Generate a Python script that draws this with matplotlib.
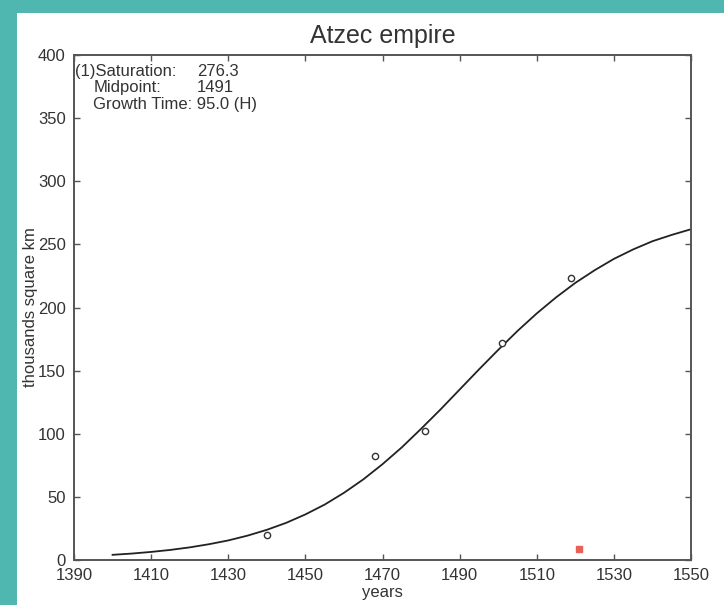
import matplotlib
matplotlib.use("Agg")
import matplotlib.pyplot as plt
from matplotlib.patches import Rectangle

# fitted curve, every 5 years
curve_years = [1400, 1405, 1410, 1415, 1420, 1425, 1430, 1435, 1440, 1445,
               1450, 1455, 1460, 1465, 1470, 1475, 1480, 1485, 1490, 1495,
               1500, 1505, 1510, 1515, 1520, 1525, 1530, 1535, 1540, 1545, 1550]
curve_vals = [4.1, 5.1, 6.4, 8.0, 10.0, 12.5, 15.5, 19.3, 23.9, 29.4,
              36.1, 43.9, 53.2, 63.8, 75.9, 89.2, 103.9, 119.1, 135.0, 150.9,
              166.4, 181.4, 195.3, 208.0, 219.5, 229.5, 238.5, 246.0, 252.5, 257.5, 262.0]

# data points
obs_years = [1440, 1468, 1481, 1501, 1519]
obs_vals = [20, 82, 102, 172, 223]

# red marker near the axis
red_year = [1521]
red_val = [9]

x_ticks = [1390, 1410, 1430, 1450, 1470, 1490, 1510, 1530, 1550]
y_ticks = [0, 50, 100, 150, 200, 250, 300, 350, 400]

plt.rcParams['font.family'] = ['Liberation Sans', 'DejaVu Sans']

W, H = 724, 605
fig = plt.figure(figsize=(W / 100, H / 100), dpi=100)
fig.patch.set_facecolor("#4fb7b0")
# white page inside the teal frame
fig.patches.append(Rectangle((17 / W, 0), 1, (H - 13) / H, transform=fig.transFigure,
                             facecolor="white", edgecolor="none", zorder=-1))

ax = fig.add_axes([74 / W, 45 / H, 617 / W, 505 / H])
ax.plot(curve_years, curve_vals, color="#222222", linewidth=1.3)
ax.plot(obs_years, obs_vals, "o", markersize=4.5, markerfacecolor="white",
        markeredgecolor="#333333", markeredgewidth=1.0)
ax.plot(red_year, red_val, "s", markersize=5, color="#e8605a", markeredgecolor="#e8605a")

ax.set_xlim(1390, 1550)
ax.set_ylim(0, 400)
ax.set_xticks(x_ticks)
ax.set_yticks(y_ticks)
ax.tick_params(direction="in", length=4, width=1, colors="#555555",
               labelcolor="#333333", labelsize=12, top=True, right=True, pad=6)
for s in ax.spines.values():
    s.set_color("#555555")
    s.set_linewidth(1.4)

ax.set_title("Atzec empire", fontsize=18, color="#333333", pad=9)
ax.set_xlabel("years", fontsize=12, color="#333333", labelpad=1)
ax.set_ylabel("thousands square km", fontsize=12, color="#333333", labelpad=0)

tc = "#333333"
ax.text(0.002, 0.968, "(1)Saturation:", transform=ax.transAxes, fontsize=12, color=tc, va="center")
ax.text(0.199, 0.968, "276.3", transform=ax.transAxes, fontsize=12, color=tc, va="center")
ax.text(0.031, 0.935, "Midpoint:", transform=ax.transAxes, fontsize=12, color=tc, va="center")
ax.text(0.199, 0.935, "1491", transform=ax.transAxes, fontsize=12, color=tc, va="center")
ax.text(0.031, 0.902, "Growth Time: 95.0 (H)", transform=ax.transAxes, fontsize=12, color=tc, va="center")

fig.savefig("out.png", dpi=100, facecolor=fig.get_facecolor())
